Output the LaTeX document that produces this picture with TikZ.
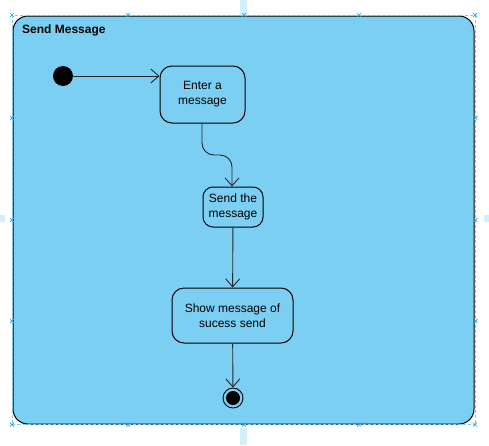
\documentclass[tikz,border=0pt]{standalone}
\usepackage{fontspec}
\setmainfont{Liberation Sans}
\usetikzlibrary{arrows.meta}
\definecolor{fillblue}{HTML}{7BCFF3}
\definecolor{selblue}{HTML}{29A8E0}
\definecolor{guide}{HTML}{D4EFFC}
\begin{document}
\begin{tikzpicture}[x=1pt,y=-1pt,
  act/.style={draw=black, line width=1pt, rounded corners=12pt, fill=fillblue, align=center, font=\fontsize{12}{15}\selectfont, inner sep=0pt},
  flow/.style={draw=black!85, line width=0.9pt, -{Straight Barb[length=8pt,width=14pt,line width=0.9pt]}},
  handle/.style={draw=selblue, line width=0.7pt}]
\useasboundingbox (0,0) rectangle (489,445);
\fill[white] (0,0) rectangle (489,445);
% guide marks
\fill[guide] (240,0) rectangle (247,20);
\fill[guide] (240,428) rectangle (247,445);
\fill[guide] (0,215) rectangle (5,222);
\fill[guide] (484,215) rectangle (489,222);
% frame
\node[draw=black, line width=1pt, rounded corners=15pt, fill=fillblue, minimum width=461pt, minimum height=408pt, inner sep=0pt] (frame) at (243.5,220) {};
\node[anchor=west, font=\bfseries\fontsize{12}{14}\selectfont, inner sep=0pt] (title) at (22,30.5) {Send Message};
% selection
\draw[selblue!60, dashed, line width=0.6pt, dash pattern=on 3pt off 2pt] (12,15) rectangle (475.5,424.5);
\foreach \hx in {12,128,244,359,475}{
  \draw[handle] (\hx-2,13) -- (\hx+2,17) (\hx-2,17) -- (\hx+2,13);
  \draw[handle] (\hx-2,422.5) -- (\hx+2,426.5) (\hx-2,426.5) -- (\hx+2,422.5);}
\foreach \hy in {118,220,321}{
  \draw[handle] (10,\hy-2) -- (14,\hy+2) (10,\hy+2) -- (14,\hy-2);
  \draw[handle] (473.5,\hy-2) -- (477.5,\hy+2) (473.5,\hy+2) -- (477.5,\hy-2);}
% nodes
\node[circle, fill=black, minimum size=20pt, inner sep=0pt] (init) at (63,76) {};
\node[act, minimum width=85pt, minimum height=57pt] (enter) at (202.5,94.5) {Enter a\\message};
\node[act, rounded corners=10pt, minimum width=60pt, minimum height=40pt] (send) at (233,207) {Send the\\message};
\node[act, minimum width=121pt, minimum height=55pt] (show) at (232.5,315.5) {Show message of\\sucess send};
\node[circle, draw=black, line width=0.9pt, fill=fillblue, minimum size=20pt, inner sep=0pt] (final) at (233,398) {};
\node[circle, fill=black, minimum size=14pt, inner sep=0pt] (finalin) at (final) {};
% connectors
\draw[flow] (init) -- (init -| enter.west);
\draw[flow, rounded corners=12pt] (enter.south -| 202,0) -- (202,155) -- (232,155) -- (send.north -| 232,0);
\draw[flow] (send) -- (show);
\draw[flow] (show) -- (final);
\end{tikzpicture}
\end{document}
